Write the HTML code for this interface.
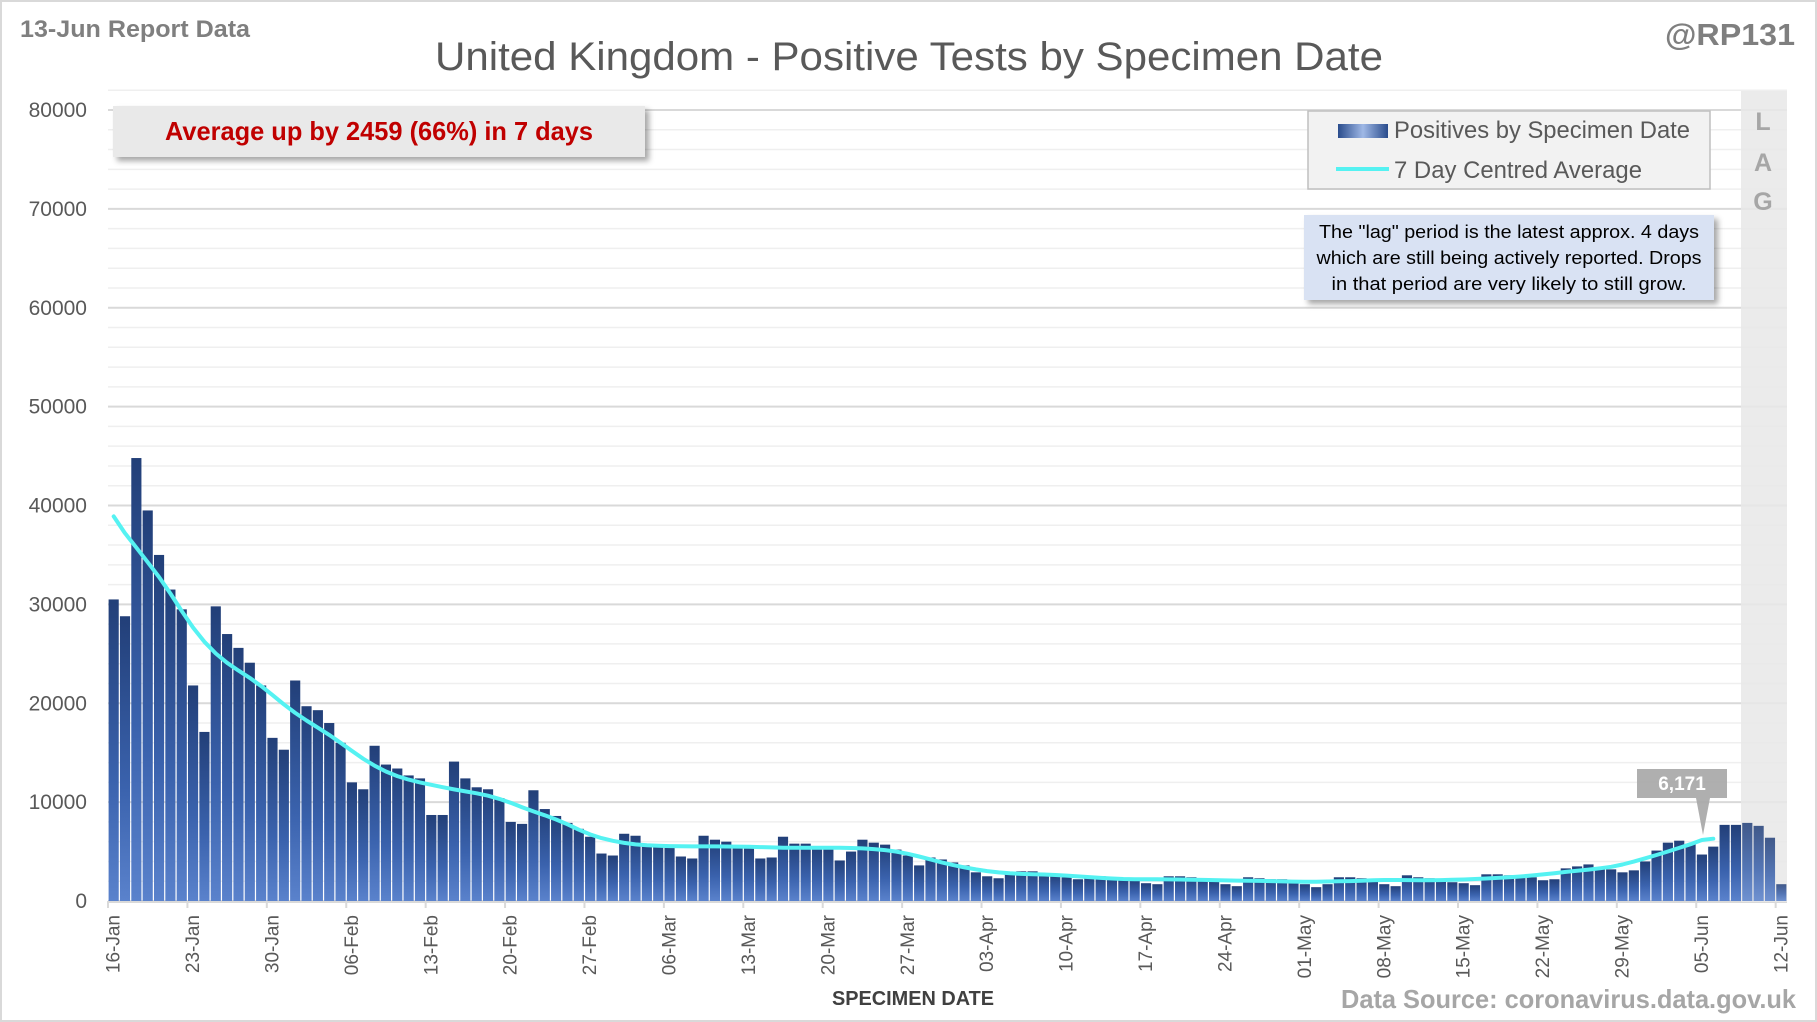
<!DOCTYPE html>
<html><head><meta charset="utf-8"><style>
html,body{margin:0;padding:0;background:#fff}
svg{display:block;font-family:"Liberation Sans",sans-serif}
</style></head><body>
<svg id="s" width="1817" height="1022" viewBox="0 0 1817 1022" xmlns="http://www.w3.org/2000/svg">
<defs>
<linearGradient id="bg" x1="0" y1="0" x2="0" y2="1">
<stop offset="0" stop-color="#223f78"/><stop offset="0.6" stop-color="#3a62ad"/><stop offset="1" stop-color="#5a82cc"/>
</linearGradient>
<linearGradient id="lg" x1="0" y1="0" x2="1" y2="0">
<stop offset="0" stop-color="#2a4c8c"/><stop offset="0.5" stop-color="#9fb8e6"/><stop offset="1" stop-color="#2a4c8c"/>
</linearGradient>
<filter id="sh" x="-10%" y="-20%" width="130%" height="160%"><feDropShadow dx="4" dy="4" stdDeviation="3" flood-color="#000" flood-opacity="0.35"/></filter>
</defs>
<rect x="1" y="1" width="1815" height="1020" fill="#fff" stroke="#d9d9d9" stroke-width="2"/>
<g id="grid"></g>
<rect x="1741" y="91" width="46" height="811" fill="#e8e8e8" opacity="0.85"/>
<g id="bars"></g>
<g id="ylab" font-size="21" fill="#595959" text-anchor="end"></g>
<g id="xlab" font-size="19" fill="#595959"></g>
<path id="avg" fill="none" stroke="#55f2f2" stroke-width="4" stroke-linejoin="round" stroke-linecap="round"/>
<text x="20" y="37" font-size="24" font-weight="bold" fill="#7f7f7f" textLength="230" lengthAdjust="spacingAndGlyphs">13-Jun Report Data</text>
<text x="909" y="70" font-size="40" fill="#595959" text-anchor="middle" textLength="948" lengthAdjust="spacingAndGlyphs">United Kingdom - Positive Tests by Specimen Date</text>
<text x="1795" y="45" font-size="31" font-weight="bold" fill="#7f7f7f" text-anchor="end" textLength="130" lengthAdjust="spacingAndGlyphs">@RP131</text>
<rect x="113" y="106" width="532" height="51" fill="#e9e9e9" filter="url(#sh)"/>
<text x="379" y="140" font-size="26" font-weight="bold" fill="#c00000" text-anchor="middle" textLength="428" lengthAdjust="spacingAndGlyphs">Average up by 2459 (66%) in 7 days</text>
<rect x="1308" y="111" width="402" height="78" fill="#f2f2f2" stroke="#bfbfbf" stroke-width="1.5"/>
<rect x="1338" y="124" width="50" height="14" fill="url(#lg)"/>
<text x="1394" y="138" font-size="24" fill="#595959" textLength="296" lengthAdjust="spacingAndGlyphs">Positives by Specimen Date</text>
<line x1="1336" y1="169" x2="1389" y2="169" stroke="#55f2f2" stroke-width="4"/>
<text x="1394" y="178" font-size="24" fill="#595959" textLength="248" lengthAdjust="spacingAndGlyphs">7 Day Centred Average</text>
<rect x="1304" y="215" width="410" height="85" fill="#d9e2f3" filter="url(#sh)"/>
<g font-size="18" fill="#000" text-anchor="middle">
<text x="1509" y="238" textLength="380" lengthAdjust="spacingAndGlyphs">The "lag" period is the latest approx. 4 days</text>
<text x="1509" y="264" textLength="385" lengthAdjust="spacingAndGlyphs">which are still being actively reported. Drops</text>
<text x="1509" y="290" textLength="355" lengthAdjust="spacingAndGlyphs">in that period are very likely to still grow.</text>
</g>
<g font-size="25" font-weight="bold" fill="#a6a6a6" text-anchor="middle">
<text x="1763" y="130">L</text><text x="1763" y="171">A</text><text x="1763" y="210">G</text>
</g>
<path d="M1637 769 H1727 V798 H1710 L1703 835 L1696 798 H1637 Z" fill="#a6a6a6" opacity="0.9"/>
<text x="1682" y="790" font-size="19" font-weight="bold" fill="#fff" text-anchor="middle">6,171</text>
<text x="913" y="1005" font-size="20" font-weight="bold" fill="#404040" text-anchor="middle" textLength="162" lengthAdjust="spacingAndGlyphs">SPECIMEN DATE</text>
<text x="1796" y="1008" font-size="26" font-weight="bold" fill="#a6a6a6" text-anchor="end" textLength="455" lengthAdjust="spacingAndGlyphs">Data Source: coronavirus.data.gov.uk</text>
</svg>
<script>
var jan=[30500,28800,44800,39500,35000,31500,29500,21800,17100,29800,27000,25600,24100,21800,16500,15300];
var feb=[22300,19700,19300,18000,16000,12000,11300,15700,13800,13400,12700,12400,8700,8700,14100,12400,11500,11300,10400,8000,7800,11200,9300,8600,7900,7300,6500,4800];
var mar=[4600,6800,6600,5800,5600,5500,4500,4300,6600,6200,6000,5600,5500,4300,4400,6500,5800,5800,5500,5300,4100,5000,6200,5900,5700,5200,4600,3600,4400,4200,3900];
var apr=[3600,2900,2500,2300,2800,3000,3000,2800,2700,2400,2200,2400,2500,2400,2300,2200,1800,1700,2500,2500,2400,2300,2000,1700,1500,2400,2300,2200,2200,1900];
var may=[1700,1400,1700,2400,2400,2300,2100,1700,1500,2600,2400,2300,2200,1900,1800,1600,2700,2700,2600,2600,2400,2100,2200,3300,3500,3700,3400,3200,2900,3100,4000];
var jun=[5100,5900,6100,5800,4700,5500,7700,7700,7900,7600,6400,1700];
var d=jan.concat(feb,mar,apr,may,jun),n=d.length;
var X0=108,X1=1787,W=(X1-X0)/n,Y0=901,K=(901-110)/80000;
var NS="http://www.w3.org/2000/svg";
function el(t,a,p,txt){var e=document.createElementNS(NS,t);for(var k in a)e.setAttribute(k,a[k]);if(txt)e.textContent=txt;document.getElementById(p).appendChild(e);return e;}
for(var v=0;v<=82000;v+=2000){var y=Y0-v*K;el('line',{x1:108,x2:1787,y1:y,y2:y,stroke:v%10000==0?'#d9d9d9':'#efefef','stroke-width':v%10000==0?2:1.5},'grid');
 if(v%10000==0)el('text',{x:87,y:y+7},'ylab',String(v));}
for(var i=0;i<n;i++){var h=d[i]*K;el('rect',{x:X0+i*W+0.6,y:Y0-h,width:W-1.2,height:h,fill:'url(#bg)',opacity:i>=n-4?0.85:1},'bars');}
el('line',{x1:X0,x2:X1,y1:Y0+1,y2:Y0+1,stroke:'#d9d9d9','stroke-width':2},'grid');
var names=["16-Jan","23-Jan","30-Jan","06-Feb","13-Feb","20-Feb","27-Feb","06-Mar","13-Mar","20-Mar","27-Mar","03-Apr","10-Apr","17-Apr","24-Apr","01-May","08-May","15-May","22-May","29-May","05-Jun","12-Jun"];
for(var j=0;j<names.length;j++){var i=j*7,x=X0+i*W,cx=x+W/2+6;
 el('line',{x1:x,x2:x,y1:Y0,y2:Y0+7,stroke:'#d9d9d9','stroke-width':2},'grid');
 el('text',{x:0,y:0,transform:'translate('+cx+',915) rotate(-90)','text-anchor':'end'},'xlab',names[j]);}
var a=[];a[0]=38900;a[1]=37200;a[2]=35600;
for(var i=3;i<=141;i++){var s=0;for(var k=-3;k<=3;k++)s+=d[i+k];a[i]=s/7;}
a[141]=6300;a[140]=6171;
var b=[];for(var i=0;i<=141;i++){if(i<2||i>139)b[i]=a[i];else b[i]=(a[i-2]+2*a[i-1]+3*a[i]+2*a[i+1]+a[i+2])/9;}
var p='';for(var i=0;i<=141;i++){p+=(i?'L':'M')+(X0+(i+0.5)*W).toFixed(1)+' '+(Y0-b[i]*K).toFixed(1);}
document.getElementById('avg').setAttribute('d',p);
</script>
</body></html>
